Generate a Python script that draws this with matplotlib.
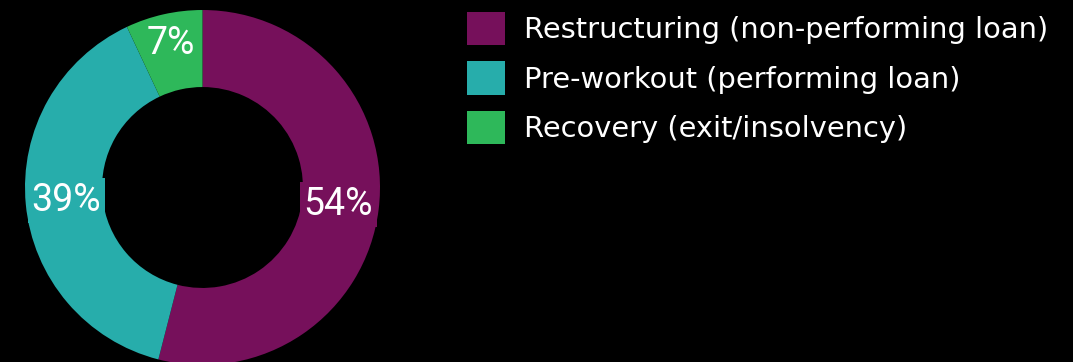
import matplotlib
matplotlib.use("Agg")
import matplotlib.pyplot as plt
import numpy as np

# Loan portfolio split by workout stage
categorias = ["Restructuring (non-performing loan)",
              "Pre-workout (performing loan)",
              "Recovery (exit/insolvency)"]
valores = [54, 39, 7]
cores = ["#76105B", "#27ADAB", "#2EB85A"]

fig = plt.figure(figsize=(10.73, 3.62), dpi=100, facecolor="black")

# donut on the left
ax = fig.add_axes([25 / 1073, -3 / 362, 355 / 1073, 355 / 362])
ax.set_facecolor("black")
fatias, _, rotulos = ax.pie(
    valores, colors=cores, startangle=90, counterclock=False,
    radius=1.0, wedgeprops=dict(width=0.434, linewidth=0),
    autopct=lambda p: f"{p:.0f}%", pctdistance=0.77,
    textprops=dict(color="white", fontsize=27, family=["Roboto", "DejaVu Sans"]),
)
for fatia, rot, cor in zip(fatias, rotulos, cores):
    # small slices get their label pushed a bit further out
    if fatia.theta2 - fatia.theta1 < 36:
        ang = np.deg2rad((fatia.theta1 + fatia.theta2) / 2)
        rot.set_position((0.83 * np.cos(ang), 0.83 * np.sin(ang)))
    else:
        rot.set_bbox(dict(facecolor=cor, edgecolor="none", boxstyle="square,pad=0.1"))
ax.set_xlim(-1, 1)
ax.set_ylim(-1, 1)
ax.set_aspect("equal")
ax.axis("off")

# legend on the right
leg = fig.legend(fatias, categorias, loc="upper left",
                 bbox_to_anchor=(441 / 1073, 1 + 14 / 362),
                 frameon=False, fontsize=20.8, labelcolor="white",
                 handlelength=1.31, handleheight=1.4, handletextpad=0.68,
                 labelspacing=0.55)

fig.savefig("out.png", dpi=100, facecolor="black")
